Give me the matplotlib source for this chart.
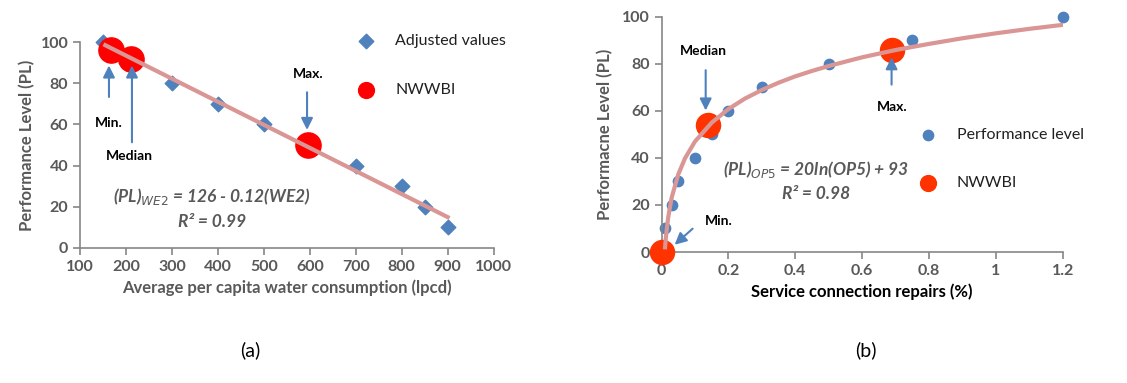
import numpy as np
import matplotlib.pyplot as plt

plt.rcParams['font.family'] = ['Lato', 'DejaVu Sans']

# panel (a) data
we2_x = [150, 200, 300, 400, 500, 700, 800, 850, 900]
we2_y = [100, 90, 80, 70, 60, 40, 30, 20, 10]
nwwbi_a_x = [168, 212, 595]
nwwbi_a_y = [96, 92, 50]
fit_a_x = [155, 900]
fit_a_y = [98.5, 15]

# panel (b) data
op5_x = [0.01, 0.03, 0.05, 0.1, 0.15, 0.2, 0.3, 0.5, 0.75, 1.2]
op5_y = [10, 20, 30, 40, 50, 60, 70, 80, 90, 100]
nwwbi_b_x = [0.0, 0.14, 0.69]
nwwbi_b_y = [0, 54, 86]
fit_b_x = [0.0105, 0.012, 0.015, 0.02, 0.03, 0.05, 0.07, 0.1, 0.15, 0.2, 0.25, 0.3,
           0.35, 0.4, 0.45, 0.5, 0.6, 0.7, 0.8, 0.9, 1.0, 1.1, 1.2]
fit_b_y = [2, 4.5, 9, 14.8, 23, 33, 39.8, 47, 55, 60.8, 65.3, 68.9,
           72.0, 74.7, 77.0, 79.1, 82.8, 85.9, 88.5, 90.9, 93, 94.9, 96.6]

blue = '#4F81BD'
gray = '#595959'
fit_col = '#DA9694'

fig = plt.figure(figsize=(11.27, 3.83), dpi=100)
ax1 = fig.add_axes([0.071, 0.3525, 0.367, 0.5375])
ax2 = fig.add_axes([0.587, 0.342, 0.356, 0.614])

for ax in (ax1, ax2):
    for s in ('top', 'right'):
        ax.spines[s].set_visible(False)
    for s in ('left', 'bottom'):
        ax.spines[s].set_color('#868686')
        ax.spines[s].set_linewidth(1.2)
    ax.tick_params(colors='#868686', labelcolor=gray, labelsize=11.5, length=5, width=1.2)

# ---- panel (a)
ax1.scatter(we2_x, we2_y, marker='D', s=55, color=blue, zorder=2, label='Adjusted values', clip_on=False)
ax1.scatter(nwwbi_a_x, nwwbi_a_y, marker='o', s=330, color='#FF0000', zorder=3, label='NWWBI', clip_on=False)
ax1.plot(fit_a_x, fit_a_y, color=fit_col, lw=3, zorder=4)
ax1.set_xlim(100, 1000)
ax1.set_ylim(0, 100)
ax1.set_xticks(range(100, 1001, 100))
ax1.set_yticks(range(0, 101, 20))
for lab in ax1.get_xticklabels() + ax1.get_yticklabels():
    lab.set_fontweight('bold')
ax1.set_xlabel('Average per capita water consumption (lpcd)', fontsize=12, fontweight='bold', color=gray, labelpad=4)
ax1.set_ylabel('Performance Level (PL)', fontsize=12, fontweight='bold', color=gray, labelpad=4)

arr = dict(arrowstyle='-|>,head_width=0.35,head_length=0.7', color=blue, lw=1.5)
ax1.annotate('', xy=(163, 90), xytext=(163, 72), arrowprops=arr)
ax1.annotate('', xy=(213, 90), xytext=(213, 50), arrowprops=arr)
ax1.annotate('', xy=(594, 56), xytext=(594, 77), arrowprops=arr)
ax1.text(163, 60.5, 'Min.', ha='center', va='center', fontsize=10, fontweight='bold')
ax1.text(207, 44.5, 'Median', ha='center', va='center', fontsize=10, fontweight='bold')
ax1.text(597, 84.5, 'Max.', ha='center', va='center', fontsize=10, fontweight='bold')
ax1.text(387, 25, r'(PL)$_{\mathbf{\mathit{WE2}}}$ = 126 - 0.12(WE2)', ha='center', va='center',
         fontsize=12.5, fontweight='bold', style='italic', color=gray)
ax1.text(387, 12.5, 'R² = 0.99', ha='center', va='center',
         fontsize=12.5, fontweight='bold', style='italic', color=gray)
ax1.legend(loc='upper left', bbox_to_anchor=(0.638, 1.07), frameon=False, fontsize=11.5,
           labelspacing=2.15, handletextpad=0.8, borderaxespad=0)
leg = ax1.get_legend()
for t in leg.get_texts():
    t.set_color('#202020')
leg.legend_handles[1].set_sizes([130])

# ---- panel (b)
ax2.scatter(op5_x, op5_y, marker='o', s=55, color=blue, zorder=2, label='Performance level', clip_on=False)
ax2.scatter(nwwbi_b_x, nwwbi_b_y, marker='o', s=300, color='#FF3300', zorder=3, label='NWWBI', clip_on=False)
ax2.plot(fit_b_x, fit_b_y, color=fit_col, lw=3, zorder=4)
ax2.set_xlim(0, 1.2)
ax2.set_ylim(0, 100)
ax2.set_xticks([0, 0.2, 0.4, 0.6, 0.8, 1, 1.2])
ax2.set_xticklabels(['0', '0.2', '0.4', '0.6', '0.8', '1', '1.2'])
ax2.set_yticks(range(0, 101, 20))
for lab in ax2.get_xticklabels() + ax2.get_yticklabels():
    lab.set_fontweight('bold')
ax2.set_xlabel('Service connection repairs (%)', fontsize=12, fontweight='bold', color='black', labelpad=4)
ax2.set_ylabel('Performacne Level (PL)', fontsize=12, fontweight='bold', color=gray, labelpad=6)

ax2.annotate('', xy=(0.132, 59), xytext=(0.132, 78.5), arrowprops=arr)
ax2.annotate('', xy=(0.688, 84), xytext=(0.688, 70), arrowprops=arr)
ax2.annotate('', xy=(0.033, 2.3), xytext=(0.099, 10.7), arrowprops=arr)
ax2.text(0.126, 85.5, 'Median', ha='center', va='center', fontsize=10, fontweight='bold')
ax2.text(0.691, 61.5, 'Max.', ha='center', va='center', fontsize=10, fontweight='bold')
ax2.text(0.17, 13, 'Min.', ha='center', va='center', fontsize=10, fontweight='bold')
ax2.text(0.461, 35, r'(PL)$_{\mathbf{\mathit{OP5}}}$ = 20ln(OP5) + 93', ha='center', va='center',
         fontsize=12.5, fontweight='bold', style='italic', color=gray)
ax2.text(0.461, 24.5, 'R² = 0.98', ha='center', va='center',
         fontsize=12.5, fontweight='bold', style='italic', color=gray)
ax2.legend(loc='upper left', bbox_to_anchor=(0.608, 0.555), frameon=False, fontsize=11.5,
           labelspacing=2.1, handletextpad=0.8, borderaxespad=0)
leg2 = ax2.get_legend()
for t in leg2.get_texts():
    t.set_color('#202020')
leg2.legend_handles[1].set_sizes([130])

fig.text(0.222, 0.085, '(a)', ha='center', va='center', fontsize=14)
fig.text(0.768, 0.085, '(b)', ha='center', va='center', fontsize=14)

fig.savefig('out.png', dpi=100)
